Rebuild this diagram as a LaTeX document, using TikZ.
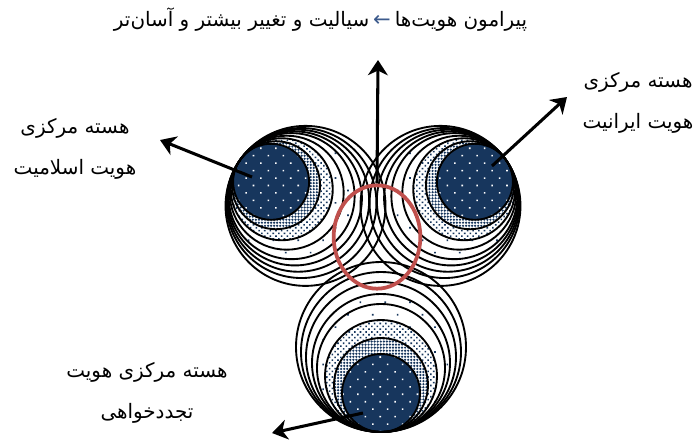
\documentclass[tikz,border=0pt]{standalone}
\usepackage{fontspec}
\newfontfamily\farsifont[Script=Arabic]{DejaVu Sans}
\newfontfamily\symbfont{DejaVu Sans}
\TeXXeTstate=1
\usetikzlibrary{positioning,calc,arrows.meta,shapes.geometric,patterns.meta}
\definecolor{corenavy}{RGB}{23,54,93}
\definecolor{hubred}{RGB}{192,80,77}
\definecolor{arrowslate}{RGB}{60,90,140}
\tikzset{
  ring/.style     = {draw=black, line width=1.6pt},
  corefill/.style = {fill=corenavy, postaction={pattern={Dots[distance=9pt,radius=0.95pt,angle=45]},
                     pattern color=white}},
  densefill/.style= {fill=white, postaction={pattern={Dots[distance=2.6pt,radius=1.05pt]},
                     pattern color=corenavy}},
  midfill/.style  = {fill=white, postaction={pattern={Dots[distance=3.4pt,radius=0.95pt,angle=45]},
                     pattern color=corenavy}},
  sparsefill/.style={fill=white, postaction={pattern={Dots[distance=15pt,radius=1pt,angle=45]},
                     pattern color=corenavy}},
  hub/.style      = {draw=hubred, line width=3.2pt, ellipse, inner sep=0pt,
                     minimum width=2.6cm, minimum height=3.1cm},
  bigarrow/.style = {line width=2.6pt, -{Stealth[length=13pt,width=17pt,inset=4pt]}},
  lbl/.style      = {font=\farsifont\fontsize{17}{35}\selectfont, align=center, inner sep=1pt},
  sym/.style      = {font=\symbfont\fontsize{18}{18}\selectfont, text=arrowslate, inner sep=1pt},
}
% one cluster: tangent point, direction, core/dense/mid/sparse radii, ring radii
\newcommand\idcluster[7]{%
  \fill[sparsefill] ($(#1)+(#2:#6)$) circle (#6);
  \fill[midfill]    ($(#1)+(#2:#5)$) circle (#5);
  \fill[densefill]  ($(#1)+(#2:#4)$) circle (#4);
  \fill[corefill]   ($(#1)+(#2:#3)$) circle (#3);
  \foreach \r in {#3,#4,#5,#6,#7} \draw[ring] ($(#1)+(#2:\r)$) circle (\r);
}

\begin{document}
\begin{tikzpicture}[x=0.03cm,y=-0.03cm]
  \useasboundingbox (0,0) rectangle (695,439);
  % tangent points of the three clusters
  \coordinate (islamP) at (240,160);
  \coordinate (iranP)  at (506,160);
  \coordinate (modP)   at (381,432);

  \idcluster{islamP}{35}{38}{44}{51}{63}{57,67,71,75,80}
  \idcluster{iranP}{145}{38}{44}{51}{63}{57,67,71,75,80}
  \idcluster{modP}{-90}{39}{47}{56}{69}{64,75,80,85}

  \node[hub] (hub) at (377,237) {};

  % arrows
  \coordinate (topTip)    at (378,60);
  \coordinate (islamFrom) at (252,177);
  \coordinate (islamTip)  at (160,140);
  \coordinate (iranFrom)  at (492,166);
  \coordinate (iranTip)   at (567,97);
  \coordinate (modFrom)   at (363,413);
  \coordinate (modTip)    at (272,433);
  \draw[bigarrow] (hub.north) -- (topTip);
  \draw[bigarrow] (islamFrom) -- (islamTip);
  \draw[bigarrow] (iranFrom) -- (iranTip);
  \draw[bigarrow] (modFrom) -- (modTip);

  % labels
  \node[sym] (toparrow) at (382,21) {←};
  \node[lbl, base right=1pt of toparrow] (topright) {\beginR پیرامون هویت‌ها\endR};
  \node[lbl, base left=1pt of toparrow] (topleft) {\beginR سیالیت و تغییر بیشتر و آسان‌تر\endR};
  \node[lbl] (islam) at (75,149)
    {\beginR هسته مرکزی\endR\\\beginR هویت اسلامیت\endR};
  \node[lbl] (iran) at (638,103)
    {\beginR هسته مرکزی\endR\\\beginR هویت ایرانیت\endR};
  \node[lbl] (modern) at (147,393)
    {\beginR هسته مرکزی هویت\endR\\\beginR تجددخواهی\endR};
\end{tikzpicture}
\end{document}
